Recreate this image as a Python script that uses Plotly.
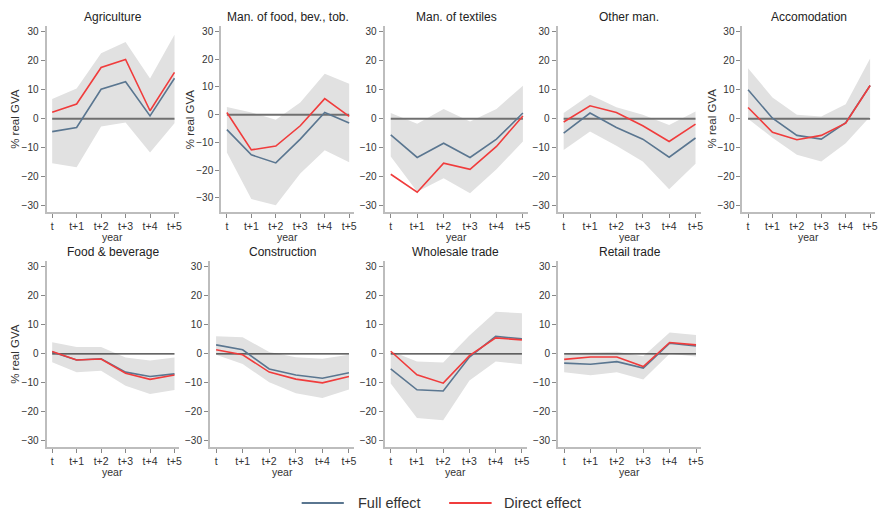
import plotly.graph_objects as go

W, H = 878, 510

periods = ["t", "t+1", "t+2", "t+3", "t+4", "t+5"]
period_idx = [0, 1, 2, 3, 4, 5]
y_ticks = [-30, -20, -10, 0, 10, 20, 30]

titles = ["Agriculture", "Man. of food, bev., tob.", "Man. of textiles", "Other man.",
          "Accomodation", "Food & beverage", "Construction", "Wholesale trade", "Retail trade"]

# Agriculture
agri_full = [-4.4, -3.0, 10.2, 12.8, 1.0, 14.0]
agri_direct = [2.3, 5.1, 17.7, 20.5, 2.8, 16.0]
agri_hi = [6.8, 10.5, 22.6, 26.5, 13.9, 29.0]
agri_lo = [-15.3, -16.7, -2.6, -1.3, -11.6, -1.5]
# Man. of food, bev., tob.
food_man_full = [-5.4, -14.5, -17.4, -8.8, 0.8, -3.0]
food_man_direct = [0.8, -12.7, -11.3, -4.0, 5.8, -0.6]
food_man_hi = [2.8, 0.8, -1.8, 4.4, 14.8, 11.2]
food_man_lo = [-13.6, -30.4, -32.7, -21.2, -12.8, -17.2]
# Man. of textiles
text_full = [-5.5, -13.3, -8.4, -13.3, -7.0, 2.0]
text_direct = [-19.1, -25.3, -15.3, -17.4, -9.5, 1.0]
text_hi = [2.0, -1.7, 3.4, -0.9, 3.4, 11.4]
text_lo = [-13.0, -25.1, -20.5, -25.6, -17.4, -7.8]
# Other man.
oman_full = [-4.9, 2.0, -3.0, -7.0, -13.2, -6.6]
oman_direct = [-1.1, 4.5, 2.2, -2.4, -7.8, -1.8]
oman_hi = [2.0, 8.3, 4.0, 1.4, -2.1, 2.5]
oman_lo = [-10.7, -4.4, -9.3, -14.7, -24.3, -15.5]
# Accomodation
accom_full = [10.0, 0.2, -5.7, -7.0, -1.3, 11.5]
accom_direct = [3.9, -4.6, -7.2, -5.7, -1.5, 11.5]
accom_hi = [17.4, 7.4, 1.4, 0.8, 5.0, 20.8]
accom_lo = [0.0, -6.5, -12.4, -14.7, -8.4, 0.8]
# Food & beverage
fb_full = [0.6, -2.1, -1.7, -6.3, -7.8, -6.9]
fb_direct = [0.8, -2.1, -1.8, -6.7, -8.8, -7.3]
fb_hi = [4.0, 2.4, 2.4, -1.3, -2.3, -1.3]
fb_lo = [-2.9, -6.3, -5.8, -11.0, -13.8, -12.5]
# Construction
cons_full = [3.1, 1.4, -5.2, -7.3, -8.4, -6.5]
cons_direct = [1.4, -0.3, -6.3, -8.7, -10.0, -7.8]
cons_hi = [6.1, 5.7, 0.6, -1.2, -1.7, -0.3]
cons_lo = [-0.3, -3.5, -9.8, -13.6, -15.2, -12.3]
# Wholesale trade
whole_full = [-5.2, -12.4, -12.8, -1.1, 6.0, 5.2]
whole_direct = [0.9, -7.2, -10.1, -0.6, 5.5, 4.8]
whole_hi = [1.0, -2.6, -3.0, 6.3, 14.5, 14.0]
whole_lo = [-10.2, -22.1, -22.9, -9.2, -2.6, -3.6]
# Retail trade
retail_full = [-3.2, -3.6, -2.7, -4.9, 3.7, 2.7]
retail_direct = [-1.9, -1.1, -1.1, -4.4, 3.9, 3.1]
retail_hi = [0.2, 0.5, 0.7, -0.8, 7.4, 6.5]
retail_lo = [-6.3, -7.4, -6.3, -8.8, 0.0, -0.9]

series = [
    (agri_full, agri_direct, agri_lo, agri_hi),
    (food_man_full, food_man_direct, food_man_lo, food_man_hi),
    (text_full, text_direct, text_lo, text_hi),
    (oman_full, oman_direct, oman_lo, oman_hi),
    (accom_full, accom_direct, accom_lo, accom_hi),
    (fb_full, fb_direct, fb_lo, fb_hi),
    (cons_full, cons_direct, cons_lo, cons_hi),
    (whole_full, whole_direct, whole_lo, whole_hi),
    (retail_full, retail_direct, retail_lo, retail_hi),
]

# layout (pixels): x0, x1, y_top, y_bottom, y-range, show ylabel, ylabel x
panels = [
    (46.7, 180.0, 26, 211.7, [-32, 32], True, 15),
    (222.0, 355.3, 26, 211.7, [-35, 32], True, 190),
    (386.0, 530.0, 26, 211.7, [-32, 32], False, 0),
    (559.5, 703.2, 26, 211.7, [-32, 32], False, 0),
    (745.0, 878.0, 26, 211.7, [-32, 32], True, 714),
    (46.7, 180.0, 261, 446.7, [-32, 32], True, 15),
    (210.7, 355.5, 261, 446.7, [-32, 32], False, 0),
    (386.0, 529.0, 261, 446.7, [-32, 32], False, 0),
    (560.0, 703.7, 261, 446.7, [-32, 32], False, 0),
]

BLUE = "#5a7690"
RED = "#f03c3c"
BAND = "#e1e1e1"
AXIS = "#bdbdbd"
FONT = "Liberation Sans, Arial, sans-serif"

def fx(px):
    return px / W

def fy(py):
    return 1 - py / H

fig = go.Figure()
annotations = []
layout_axes = {}

for i, (title, (full, direct, lo, hi), p) in enumerate(zip(titles, series, panels)):
    n = i + 1
    xa = "x" if n == 1 else f"x{n}"
    ya = "y" if n == 1 else f"y{n}"
    x0, x1, yt, yb, yr, show_yl, ylx = p
    top_row = i < 5

    fig.add_trace(go.Scatter(x=period_idx, y=lo, mode="lines", line=dict(width=0, color=BAND),
                             xaxis=xa, yaxis=ya, showlegend=False, hoverinfo="skip"))
    fig.add_trace(go.Scatter(x=period_idx, y=hi, mode="lines", line=dict(width=0, color=BAND),
                             fill="tonexty", fillcolor=BAND,
                             xaxis=xa, yaxis=ya, showlegend=False, hoverinfo="skip"))
    fig.add_trace(go.Scatter(x=[period_idx[0], period_idx[-1]], y=[0, 0], mode="lines",
                             line=dict(width=2 if top_row else 1.3,
                                       color="#707070" if top_row else "#333333"),
                             xaxis=xa, yaxis=ya, showlegend=False, hoverinfo="skip"))
    fig.add_trace(go.Scatter(x=period_idx, y=full, mode="lines", name="Full effect",
                             line=dict(width=1.6, color=BLUE),
                             xaxis=xa, yaxis=ya, showlegend=False))
    fig.add_trace(go.Scatter(x=period_idx, y=direct, mode="lines", name="Direct effect",
                             line=dict(width=1.6, color=RED),
                             xaxis=xa, yaxis=ya, showlegend=False))

    key_x = "xaxis" if n == 1 else f"xaxis{n}"
    key_y = "yaxis" if n == 1 else f"yaxis{n}"
    layout_axes[key_x] = dict(
        domain=[fx(x0), fx(x1)], anchor=ya, range=[-0.23, 5.2],
        tickvals=period_idx, ticktext=periods, showgrid=False, zeroline=False,
        showline=True, linecolor=AXIS, linewidth=2, ticks="outside", ticklen=4,
        tickcolor="#888888", tickwidth=1,
        tickfont=dict(family=FONT, size=10.5, color="#333333"), fixedrange=True)
    layout_axes[key_y] = dict(
        domain=[fy(yb), fy(yt)], anchor=xa, range=yr,
        tickvals=y_ticks, showgrid=False, zeroline=False,
        showline=True, linecolor=AXIS, linewidth=2, ticks="outside", ticklen=4,
        tickcolor="#888888", tickwidth=1,
        tickfont=dict(family=FONT, size=10, color="#333333"), fixedrange=True)

    cx = (x0 + x1) / 2
    annotations.append(dict(text=title, x=fx(cx), y=fy(17 if top_row else 252),
                            xref="paper", yref="paper", showarrow=False,
                            xanchor="center", yanchor="middle",
                            font=dict(family=FONT, size=12, color="#222222")))
    annotations.append(dict(text="year", x=fx(cx), y=fy(237 if top_row else 471.7),
                            xref="paper", yref="paper", showarrow=False,
                            xanchor="center", yanchor="middle",
                            font=dict(family=FONT, size=10.5, color="#333333")))
    if show_yl:
        annotations.append(dict(text="% real GVA", x=fx(ylx), y=fy((yt + yb) / 2),
                                xref="paper", yref="paper", showarrow=False, textangle=-90,
                                xanchor="center", yanchor="middle",
                                font=dict(family=FONT, size=11.5, color="#333333")))

# legend drawn manually
shapes = [
    dict(type="line", xref="paper", yref="paper", x0=fx(302.7), x1=fx(345), y0=fy(503), y1=fy(503),
         line=dict(color=BLUE, width=1.8)),
    dict(type="line", xref="paper", yref="paper", x0=fx(450.7), x1=fx(493.3), y0=fy(503), y1=fy(503),
         line=dict(color=RED, width=1.8)),
]
annotations.append(dict(text="Full effect", x=fx(357), y=fy(503), xref="paper", yref="paper",
                        showarrow=False, xanchor="left", yanchor="middle",
                        font=dict(family=FONT, size=14.5, color="#333333")))
annotations.append(dict(text="Direct effect", x=fx(504), y=fy(503), xref="paper", yref="paper",
                        showarrow=False, xanchor="left", yanchor="middle",
                        font=dict(family=FONT, size=14.5, color="#333333")))

fig.update_layout(
    width=W, height=H, margin=dict(l=0, r=0, t=0, b=0),
    paper_bgcolor="white", plot_bgcolor="white",
    showlegend=False, annotations=annotations, shapes=shapes,
    font=dict(family=FONT),
    **layout_axes,
)

fig.write_html("out.html", config={"displayModeBar": False},
               post_script="document.body.style.margin='0';document.body.style.overflow='hidden';")
